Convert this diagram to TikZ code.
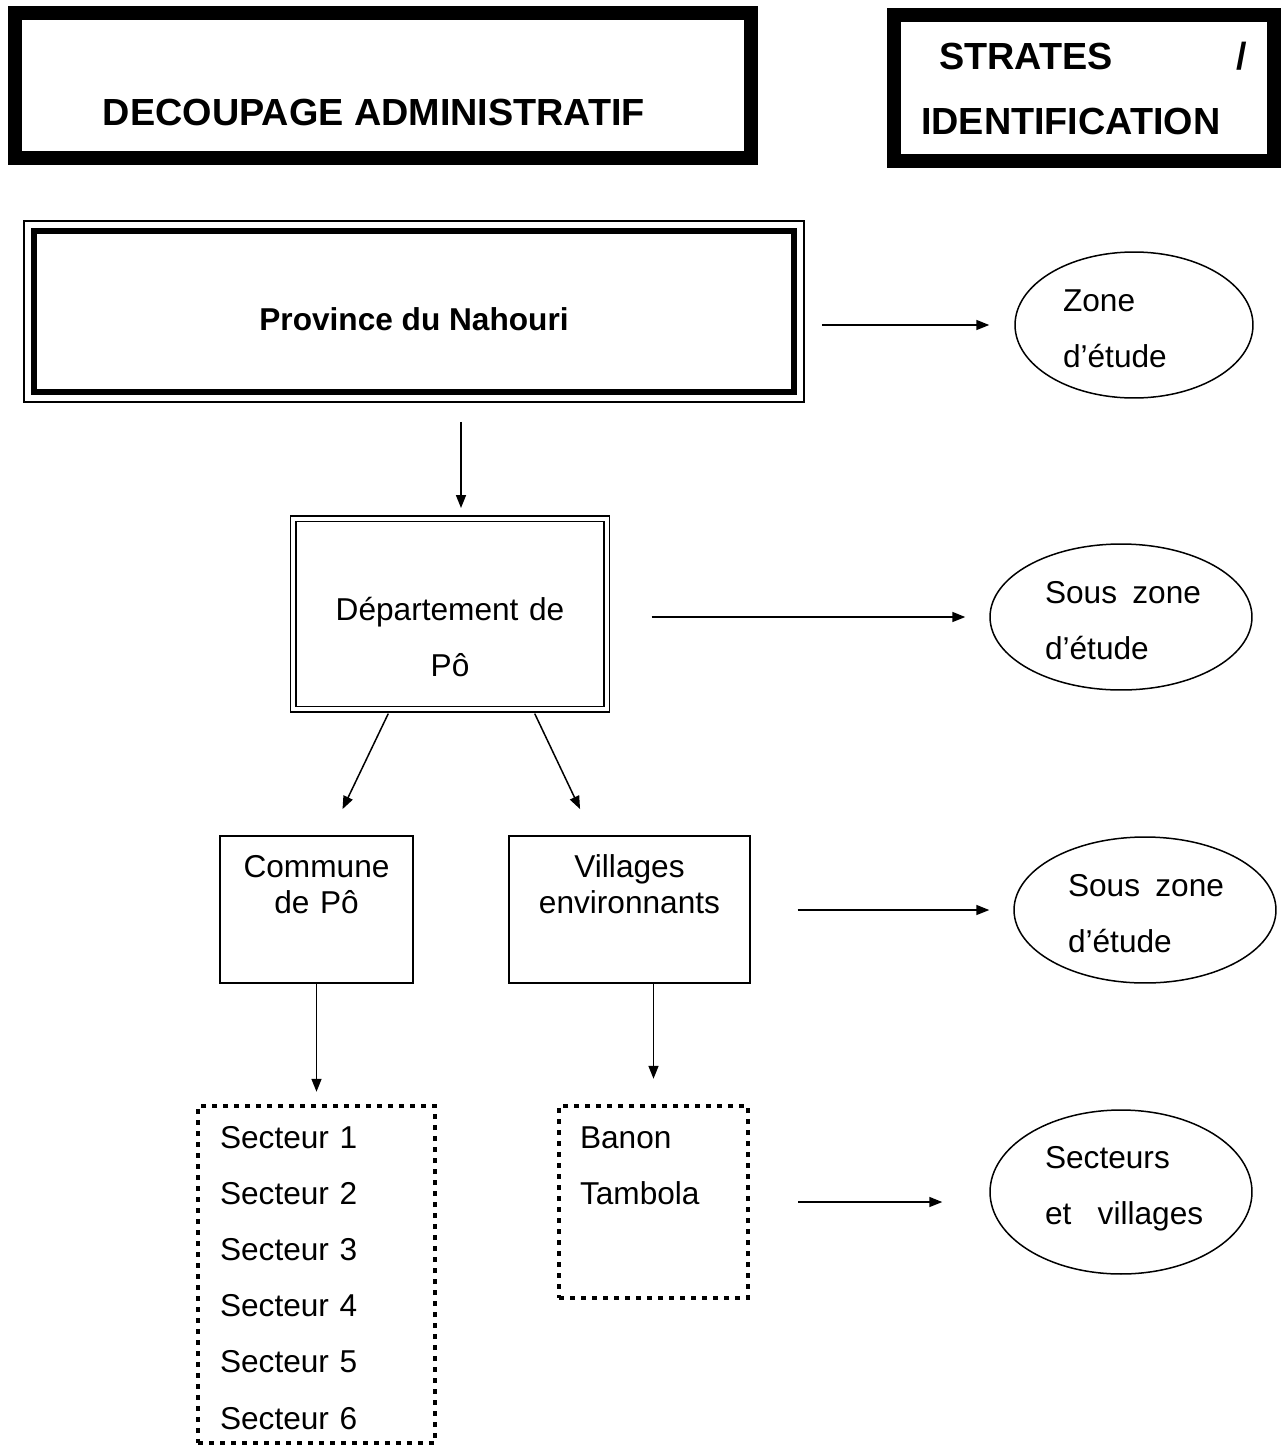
\documentclass[tikz,border=0pt]{standalone}
\usepackage{fontspec}
\setmainfont{Liberation Sans}
\usepackage{tikz}
\usetikzlibrary{arrows.meta,positioning,calc,shapes.geometric}
\newcommand\corps{\fontsize{18}{32}\selectfont}
\tikzset{
  titre/.style={draw,line width=0.28cm,inner sep=0pt,
              font=\fontsize{21.5}{37}\selectfont\bfseries},
  cadre/.style={draw,line width=0.12cm,inner sep=0pt,font=\corps\bfseries},
  boite/.style={draw,line width=0.03cm,inner sep=0pt,align=center},
  pointille/.style={draw,line width=0.09cm,dash pattern=on 0.1cm off 0.12cm,
              inner sep=0pt,align=left},
  strate/.style={ellipse,draw,line width=0.03cm,inner sep=0pt,align=left,
              minimum width=5.24cm,minimum height=2.92cm,
              text height=0.5cm,text depth=1.06cm},
  fleche/.style={-{Triangle[length=0.26cm,width=0.2cm]},line width=0.03cm},
}
\begin{document}
\begin{tikzpicture}[x=0.02cm,y=-0.02cm,font=\corps]
  \useasboundingbox (0,0) rectangle (1281,1447);
  % en-tetes
  \node[titre,minimum width=14.72cm,minimum height=2.9cm,
        text height=1.8cm,text depth=0.2cm] (decoupage) at (383,85.5)
     {DECOUPAGE ADMINISTRATIF\kern0.36cm};
  \node[titre,minimum width=7.59cm,minimum height=2.91cm,
        text width=6.52cm,align=left] (strates) at (1084,88)
     {\makebox[\linewidth][l]{\hspace{0.36cm}STRATES\hfill/}\\IDENTIFICATION};
  % decoupage
  \node[cadre,minimum width=15.2cm,minimum height=3.22cm,
        text height=0.8cm,text depth=0.06cm] (province) at (414,311.5)
     {Province du Nahouri};
  \draw[line width=0.03cm] ([shift={(-1.4mm,-1.4mm)}]province.south west)
     rectangle ([shift={(1.4mm,1.4mm)}]province.north east);
  \node[boite,double,double distance=0.08cm,minimum width=6.28cm,
        minimum height=3.81cm,text width=5.5cm,text height=1.2cm,
        text depth=0.96cm] (departement) at (450,614)
     {Département de\\Pô};
  \node[boite,font=\fontsize{18}{21}\selectfont,minimum width=3.86cm,
        minimum height=2.94cm,text width=3.6cm,text height=0.5cm,
        text depth=1.8cm] (commune) at (316.5,909.5) {Commune\\de Pô};
  \node[boite,font=\fontsize{18}{21}\selectfont,minimum width=4.82cm,
        minimum height=2.94cm,text width=4.6cm,text height=0.5cm,
        text depth=1.8cm] (villages) at (629.5,909.5)
     {Villages\\environnants};
  \node[pointille,minimum width=4.74cm,minimum height=6.74cm,
        text width=3.86cm,text height=0.5cm,text depth=5.56cm] (secteurs)
     at (316.5,1274.5)
     {Secteur 1\\Secteur 2\\Secteur 3\\Secteur 4\\Secteur 5\\Secteur 6};
  \node[pointille,minimum width=3.78cm,minimum height=3.84cm,
        text width=2.94cm,text height=0.5cm,text depth=2.66cm] (banon)
     at (653.5,1202) {Banon\\Tambola};
  % strates
  \node[strate,minimum width=4.76cm,text width=2.84cm] (zone) at (1134,325)
     {Zone\\d'étude};
  \node[strate,text width=3.04cm] (sous1) at (1121,617)
     {\mbox{Sous\hspace{.15em} zone}\\d'étude};
  \node[strate,text width=3.08cm] (sous2) at (1145,910)
     {\mbox{Sous\hspace{.15em} zone}\\d'étude};
  \node[strate,minimum height=3.28cm,text width=3.04cm,text depth=1.46cm]
     (secvil) at (1121,1192) {Secteurs\\\mbox{et\hspace{.5em} villages}};
  % fleches
  \coordinate (pd) at ([xshift=0.22cm]departement.north);
  \draw[fleche,shorten <=0.54cm,shorten >=0.2cm] (pd |- province.south) -- (pd);
  \draw[fleche,shorten <=0.08cm,shorten >=0.58cm]
     ([xshift=-1.2cm]departement.south) -- ([xshift=0.27cm]commune.north);
  \draw[fleche,shorten <=0.08cm,shorten >=0.58cm]
     ([xshift=1.66cm]departement.south) -- ([xshift=-0.74cm]villages.north);
  \draw[fleche,shorten >=0.24cm] (commune.south) -- (secteurs.north);
  \draw[fleche,shorten >=0.5cm] (banon.north |- villages.south) -- (banon.north);
  \draw[fleche,shorten <=0.5cm,shorten >=0.5cm]
     (province.east |- zone.west) -- (zone.west);
  \draw[fleche,shorten <=0.88cm,shorten >=0.48cm]
     (departement.east |- sous1.west) -- (sous1.west);
  \draw[fleche,shorten <=0.94cm,shorten >=0.48cm]
     (villages.east |- sous2.west) -- (sous2.west);
  \draw[fleche,shorten <=0.96cm,shorten >=0.94cm]
     (banon.east) -- (banon.east -| secvil.west);
\end{tikzpicture}
\end{document}
